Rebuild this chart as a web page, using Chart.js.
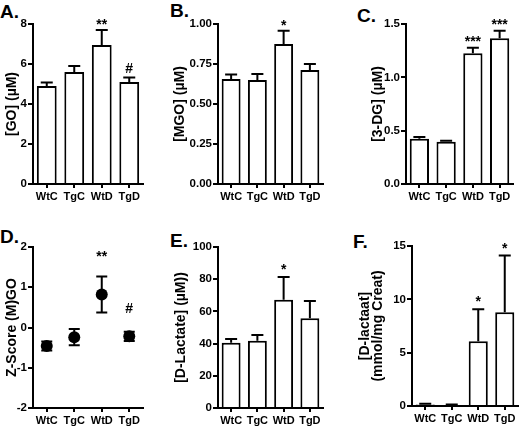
<!DOCTYPE html>
<html>
<head>
<meta charset="utf-8">
<script src="https://cdn.jsdelivr.net/npm/chart.js@4"></script>
<style>
  body { margin: 0; background: #fff; width: 520px; height: 428px; position: relative; overflow: hidden; }
  canvas { position: absolute; }
  .tag { position: absolute; font: bold 19px "Liberation Sans", Arial, sans-serif; line-height: 19px; color: #000; }
</style>
</head>
<body>
<div class="tag" style="left:0;top:2px">A.</div>
<div class="tag" style="left:170px;top:1px">B.</div>
<div class="tag" style="left:357px;top:6px">C.</div>
<div class="tag" style="left:0;top:227px">D.</div>
<div class="tag" style="left:170px;top:231px">E.</div>
<div class="tag" style="left:353px;top:232px">F.</div>

<canvas id="cA" width="150" height="215" style="left:0;top:0"></canvas>
<canvas id="cB" width="160" height="215" style="left:170px;top:0"></canvas>
<canvas id="cC" width="155" height="215" style="left:365px;top:0"></canvas>
<canvas id="cD" width="150" height="213" style="left:0;top:215px"></canvas>
<canvas id="cE" width="160" height="213" style="left:170px;top:215px"></canvas>
<canvas id="cF" width="168" height="213" style="left:352px;top:215px"></canvas>

<script>
// groepen
const groups = ['WtC', 'TgC', 'WtD', 'TgD'];

// A. glyoxal
const goMean = [4.9, 5.6, 6.95, 5.1];
const goSem = [0.17, 0.3, 0.75, 0.22];
const goMarks = ['', '', '**', '#'];
const goTicks = [0, 2, 4, 6, 8];

// B. methylglyoxal
const mgoMean = [0.657, 0.65, 0.875, 0.713];
const mgoSem = [0.027, 0.038, 0.083, 0.037];
const mgoMarks = ['', '', '*', ''];
const mgoTicks = [0, 0.25, 0.5, 0.75, 1.0];

// C. 3-deoxyglucosone
const dgMean = [0.424, 0.396, 1.225, 1.366];
const dgSem = [0.016, 0.01, 0.053, 0.071];
const dgMarks = ['', '', '***', '***'];
const dgTicks = [0, 0.5, 1.0, 1.5];

// D. z-score
const zMean = [-0.46, -0.24, 0.82, -0.22];
const zSem = [0.11, 0.2, 0.45, 0.115];
const zMarks = ['', '', '**', '#'];
const zTicks = [-2, -1, 0, 1, 2];

// E. D-lactaat plasma
const lacMean = [40.5, 41.8, 67.2, 55.7];
const lacSem = [2.3, 3.5, 14.1, 10.8];
const lacMarks = ['', '', '*', ''];
const lacTicks = [0, 20, 40, 60, 80, 100];

// F. D-lactaat urine
const urMean = [0.15, 0.1, 6.06, 8.8];
const urSem = [0.05, 0.03, 3.0, 5.3];
const urMarks = ['', '', '*', '*'];
const urTicks = [0, 5, 10, 15];

const FONT = '"Liberation Sans", Arial, sans-serif';

// foutbalken + significantie tekens
function drawErrors(chart) {
    const ds = chart.data.datasets[0];
    const meta = chart.getDatasetMeta(0);
    const y = chart.scales.y;
    const ctx = chart.ctx;
    ctx.save();
    ctx.strokeStyle = '#000';
    ctx.lineWidth = 2;
    ctx.font = 'bold 14px ' + FONT;
    ctx.fillStyle = '#000';
    ctx.textAlign = 'center';
    ctx.textBaseline = 'alphabetic';
    meta.data.forEach((el, i) => {
        const x = el.x;
        const hi = y.getPixelForValue(ds.data[i] + ds.sem[i]);
        const lo = ds.twoSided ? y.getPixelForValue(ds.data[i] - ds.sem[i]) : el.y;
        const c = ds.capWidth / 2;
        ctx.beginPath();
        ctx.moveTo(x, lo); ctx.lineTo(x, hi);
        ctx.moveTo(x - c, hi); ctx.lineTo(x + c, hi);
        if (ds.twoSided) { ctx.moveTo(x - c, lo); ctx.lineTo(x + c, lo); }
        ctx.stroke();
        const m = ds.marks[i];
        if (m) {
            const desc = ctx.measureText(m).actualBoundingBoxDescent;
            ctx.fillText(m, x, hi - ds.markGap - desc);
        }
    });
    ctx.restore();
}

const errorBars = {
    id: 'errorBars',
    beforeDatasetsDraw(chart) { if (chart.data.datasets[0].twoSided) drawErrors(chart); },
    afterDatasetsDraw(chart) { if (!chart.data.datasets[0].twoSided) drawErrors(chart); }
};

function axisX(h) {
    return {
        type: 'category',
        offset: true,
        grid: { display: true, drawOnChartArea: false, drawTicks: true, tickLength: 4, offset: false, color: '#000', lineWidth: 2 },
        border: { color: '#000', width: 2 },
        ticks: { color: '#000', font: { family: FONT, size: 11, weight: 'bold' }, padding: 2, maxRotation: 0, autoSkip: false },
        afterFit(s) { s.height = h; }
    };
}

function axisY(ticks, dec, title, w, titlePad, lh) {
    return {
        min: ticks[0],
        max: ticks[ticks.length - 1],
        afterBuildTicks(s) { s.ticks = ticks.map(v => ({ value: v })); },
        grid: { display: true, drawOnChartArea: false, drawTicks: true, tickLength: 5, color: '#000', lineWidth: 2 },
        border: { color: '#000', width: 2 },
        ticks: { color: '#000', font: { family: FONT, size: 11.5, weight: 'bold' }, padding: 1, callback: v => v.toFixed(dec) },
        title: { display: true, text: title, color: '#000', font: { family: FONT, size: 14, weight: 'bold', lineHeight: lh || 1.2 }, padding: { top: titlePad, bottom: 0 } },
        afterFit(s) { s.width = w; }
    };
}

function maakGrafiek(id, type, mean, sem, marks, ticks, dec, title, box) {
    const twoSided = type === 'line';
    const ds = {
        data: mean,
        sem: sem,
        marks: marks,
        twoSided: twoSided,
        capWidth: twoSided ? 11 : 12,
        markGap: box.gap
    };
    if (twoSided) {
        Object.assign(ds, { showLine: false, pointRadius: 6, pointHoverRadius: 6, pointBackgroundColor: '#000', pointBorderColor: '#000', pointBorderWidth: 0 });
    } else {
        Object.assign(ds, { backgroundColor: '#fff', borderColor: '#000', borderWidth: 2, barPercentage: 0.72, categoryPercentage: 1 });
    }
    return new Chart(document.getElementById(id), {
        type: type,
        data: { labels: groups, datasets: [ds] },
        options: {
            responsive: false,
            animation: false,
            layout: { padding: { top: box.top, right: box.right, left: 0, bottom: 0 } },
            plugins: { legend: { display: false }, tooltip: { enabled: false } },
            scales: { x: axisX(box.xh), y: axisY(ticks, dec, title, box.yw, box.tp, box.lh) }
        },
        plugins: [errorBars]
    });
}

maakGrafiek('cA', 'bar', goMean, goSem, goMarks, goTicks, 0, '[GO] (µM)', { top: 24, right: 7, xh: 31, yw: 33, tp: 4, gap: 5 });
maakGrafiek('cB', 'bar', mgoMean, mgoSem, mgoMarks, mgoTicks, 2, '[MGO] (µM)', { top: 24, right: 7, xh: 31, yw: 48, tp: 2, gap: 5 });
maakGrafiek('cC', 'bar', dgMean, dgSem, dgMarks, dgTicks, 1, '[3-DG] (µM)', { top: 24, right: 7, xh: 31, yw: 41, tp: 5, gap: 6 });
maakGrafiek('cD', 'line', zMean, zSem, zMarks, zTicks, 0, 'Z-Score (M)GO', { top: 32, right: 7, xh: 20, yw: 33, tp: 4, gap: 19 });
maakGrafiek('cE', 'bar', lacMean, lacSem, lacMarks, lacTicks, 0, '[D-Lactate] (µM))', { top: 32, right: 7, xh: 20, yw: 48, tp: 3, gap: 7 });
maakGrafiek('cF', 'bar', urMean, urSem, urMarks, urTicks, 0, ['[D-lactaat]', '(mmol/mg Creat)'], { top: 31, right: 2, xh: 22, yw: 60, tp: 7, lh: 0.9, gap: 7 });
</script>
</body>
</html>
